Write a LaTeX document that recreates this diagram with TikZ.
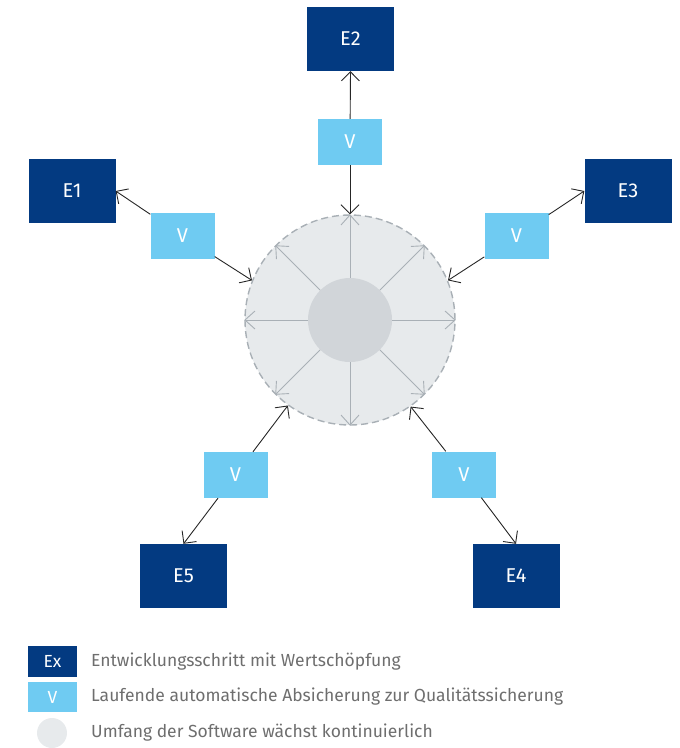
\documentclass[tikz,border=0pt]{standalone}
\usepackage{fontspec}
\setmainfont{Fira Sans}
\usepackage{tikz}
\usetikzlibrary{arrows.meta,positioning,calc}
\definecolor{edark}{HTML}{033A81}
\definecolor{vlight}{HTML}{6FCBF2}
\definecolor{swfill}{HTML}{E7EAEC}
\definecolor{swcore}{HTML}{D1D5D9}
\definecolor{swline}{HTML}{A9B0B6}
\definecolor{legtext}{HTML}{6E6E6E}
\tikzset{ebox/.style={rectangle,fill=edark,text=white,minimum width=87pt,minimum height=64pt,inner sep=0pt,font=\fontsize{20}{24}\selectfont},
  vbox/.style={rectangle,fill=vlight,text=white,minimum width=64pt,minimum height=46pt,inner sep=0pt,font=\fontsize{20}{24}\selectfont},
  legtxt/.style={anchor=west,text=legtext,inner sep=0pt},
  flow/.style={->,draw=black!85,line width=0.9pt},
  growarrow/.style={-{Straight Barb[length=10pt,width=18pt]},draw=swline,line width=0.9pt}}

\begin{document}
\begin{tikzpicture}[x=1pt, y=-1pt, >={Straight Barb[length=9pt,width=18pt]}, font=\fontsize{17.5}{21}\selectfont]
\useasboundingbox (0,0) rectangle (680,748);
    % software circle
    \node[shape=circle,fill=swfill,draw=swline,line width=1.4pt,dash pattern=on 7pt off 4pt,minimum size=210pt] (W) at (350,320) {};
    \node[shape=circle,fill=swcore,minimum size=84pt] (K) at (350,320) {};
    \foreach \a in {0,45,...,315}
        \path (K) edge[growarrow] (W.\a);

    % steps
    \node[ebox] (E1) at (72,191) {E1};
    \node[ebox] (E2) at (350.5,39) {E2};
    \node[ebox] (E3) at (628,191) {E3};
    \node[ebox] (E4) at (516,576) {E4};
    \node[ebox] (E5) at (183.5,576) {E5};

    \node[vbox] (V1) at (182.5,236) {V};
    \node[vbox] (V2) at (350,142) {V};
    \node[vbox] (V3) at (516.5,236) {V};
    \node[vbox] (V4) at (464,474.5) {V};
    \node[vbox] (V5) at (235.5,475) {V};

    \path (V1) edge[flow] (E1.east);
    \path (V1) edge[flow] (W.158);
    \path (V2) edge[flow] (E2.south);
    \path (V2) edge[flow] (W.90);
    \path (V3) edge[flow] (E3.west);
    \path (V3) edge[flow] (W.22);
    \path (V4) edge[flow] (E4.north);
    \path (V4) edge[flow] (W.305.5);
    \path (V5) edge[flow] (E5.north);
    \path (V5) edge[flow] (W.234.5);

    % legend
    \node[ebox,minimum width=49pt,minimum height=31pt,font=\fontsize{17.5}{21}\selectfont] (LE) at (52.5,661.5) {Ex};
    \node[vbox,minimum width=49pt,minimum height=30pt,font=\fontsize{17.5}{21}\selectfont] (LV) at (52.5,697) {V};
    \node[shape=circle,fill=swfill,minimum size=30pt,inner sep=0pt] (LW) at (52,733) {};
    \node[legtxt] (TE) at (91,662) {Entwicklungsschritt mit Wertschöpfung};
    \node[legtxt] (TV) at (91,697) {Laufende automatische Absicherung zur Qualitätssicherung};
    \node[legtxt] (TW) at (91,733) {Umfang der Software wächst kontinuierlich};
\end{tikzpicture}
\end{document}
